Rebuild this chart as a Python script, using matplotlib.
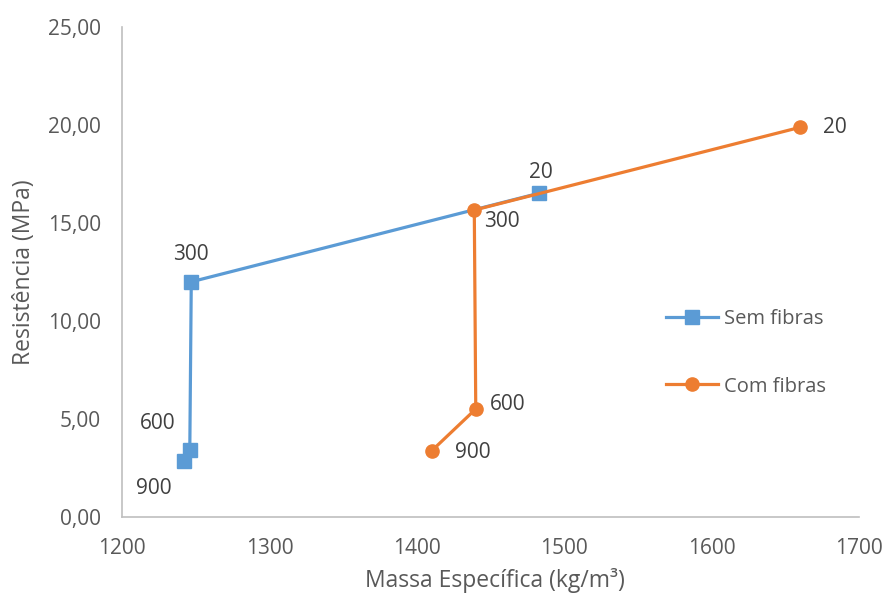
import matplotlib.pyplot as plt

# Density (kg/m3) and strength (MPa) after exposure to each temperature
temperaturas = ['20', '300', '600', '900']
massa_sem = [1483, 1247, 1246, 1242]
resist_sem = [16.52, 12.00, 3.42, 2.86]
massa_com = [1660, 1439, 1440, 1410]
resist_com = [19.88, 15.66, 5.51, 3.37]

azul = '#5B9BD5'
laranja = '#ED7D31'
cinza = '#595959'

plt.rcParams['font.family'] = ['Open Sans', 'DejaVu Sans']

fig = plt.figure(figsize=(8.95, 5.97), dpi=100)
ax = fig.add_axes([0.1363, 0.134, 0.8235, 0.8208])

ax.plot(massa_sem, resist_sem, color=azul, lw=2.3, marker='s', ms=9.5,
        label='Sem fibras', zorder=3)
ax.plot(massa_com, resist_com, color=laranja, lw=2.3, marker='o', ms=9.5,
        label='Com fibras', zorder=4)

# Temperature labels next to each point (offsets in points)
off_sem = [(1, 15), (0, 20), (-23, 19), (-22, -20)]
off_com = [(25, 0), (20, -8), (23, 3), (30, -1)]
for t, x, y, o in zip(temperaturas, massa_sem, resist_sem, off_sem):
    ax.annotate(t, (x, y), xytext=o, textcoords='offset points',
                ha='center', va='center', fontsize=15, color='#404040')
for t, x, y, o in zip(temperaturas, massa_com, resist_com, off_com):
    ax.annotate(t, (x, y), xytext=o, textcoords='offset points',
                ha='center', va='center', fontsize=15, color='#404040')

ax.set_xlim(1200, 1700)
ax.set_ylim(0, 25)
ax.set_xticks([1200, 1300, 1400, 1500, 1600, 1700])
ax.set_yticks([0, 5, 10, 15, 20, 25])
ax.set_yticklabels([('%.2f' % v).replace('.', ',') for v in ax.get_yticks()])

for s in ['top', 'right']:
    ax.spines[s].set_visible(False)
for s in ['left', 'bottom']:
    ax.spines[s].set_color('#BFBFBF')
    ax.spines[s].set_linewidth(1.2)
ax.tick_params(length=0, labelsize=15, labelcolor=cinza)
ax.tick_params(axis='y', pad=15)
ax.tick_params(axis='x', pad=15)

ax.set_xlabel('Massa Específica (kg/m³)', fontsize=16.5, color=cinza)
ax.set_ylabel('Resistência (MPa)', fontsize=16.5, color=cinza)
ax.xaxis.set_label_coords(0.506, -0.104)
ax.yaxis.set_label_coords(-0.116, 0.5)

ax.legend(loc='center left', bbox_to_anchor=(0.713, 0.335), frameon=False,
          fontsize=14.5, labelcolor=cinza, handlelength=2.6, handletextpad=0.3,
          labelspacing=2.35)

fig.savefig('out.png', dpi=100)
